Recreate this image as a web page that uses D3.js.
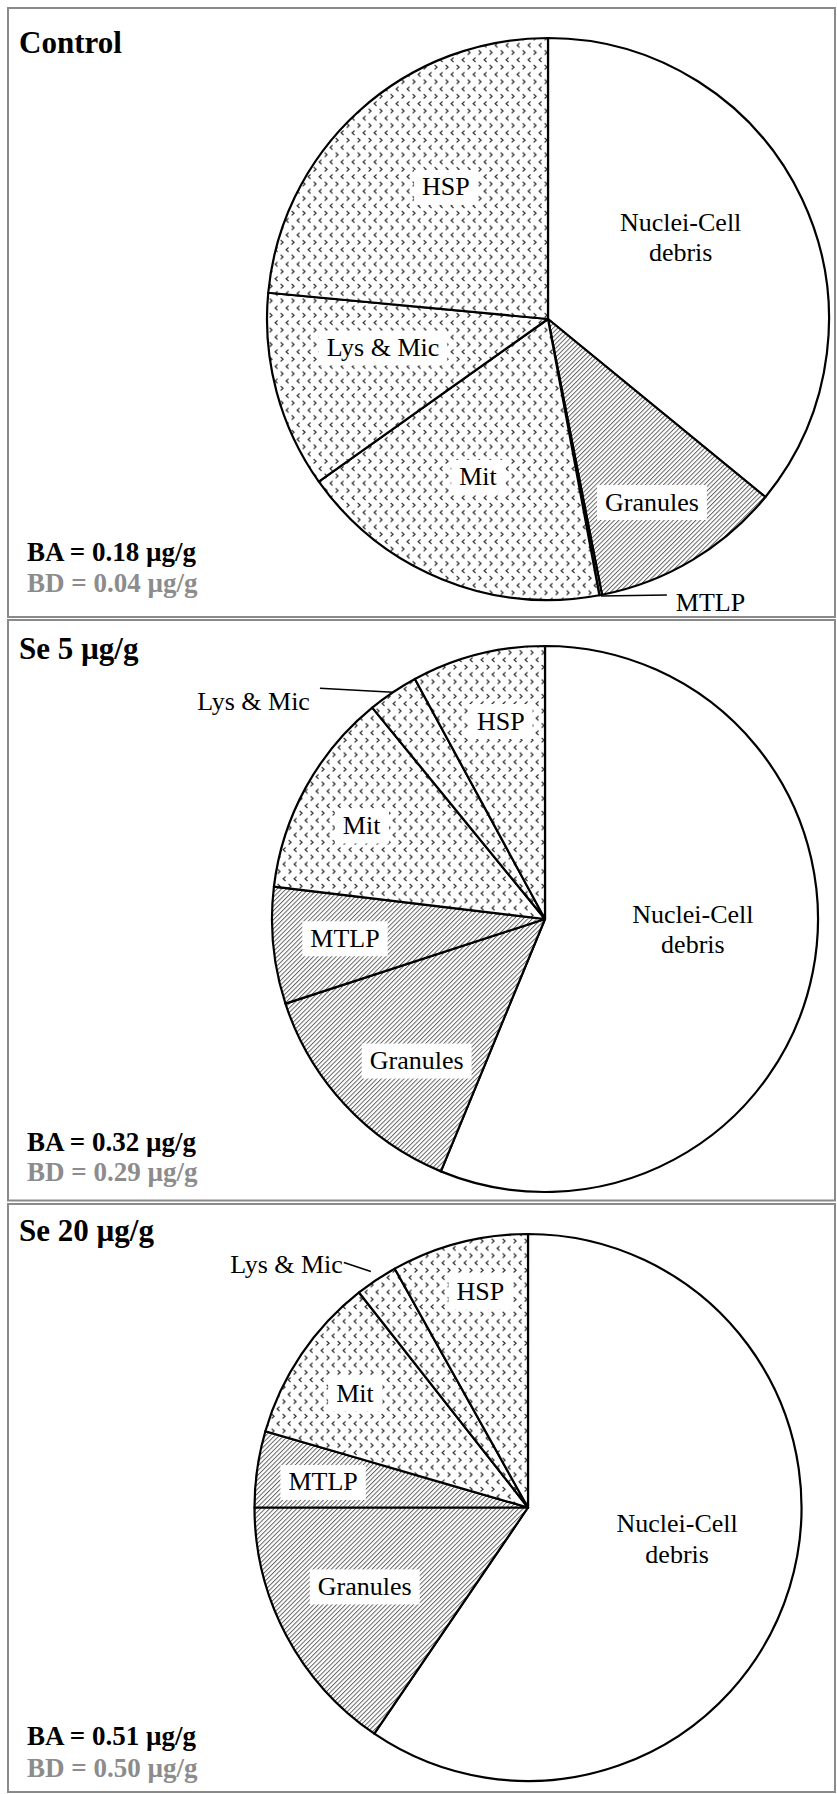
<!DOCTYPE html>
<html>
<head>
<meta charset="utf-8">
<script src="https://cdnjs.cloudflare.com/ajax/libs/d3/7.8.5/d3.min.js"></script>
<style>
  html, body { margin: 0; padding: 0; background: #fff; }
  svg { display: block; }
  text { font-family: "Liberation Serif", "Times New Roman", serif; }
</style>
</head>
<body>
<svg id="chart" width="837" height="1794"></svg>
<script>
// Subcellular distribution of Se (% of total) in three treatment groups
const fractions = ["Nuclei-Cell debris", "Granules", "MTLP", "Mit", "Lys & Mic", "HSP"];
const panelTitles = ["Control", "Se 5 µg/g", "Se 20 µg/g"];
const controlShares = [35.9, 11.0, 0.15, 18.1, 11.3, 23.5];
const se5Shares = [56.2, 13.75, 6.9, 12.2, 3.0, 7.9];
const se20Shares = [59.5, 15.5, 4.5, 9.9, 2.5, 8.1];
const baValues = ["0.18", "0.32", "0.51"];
const bdValues = ["0.04", "0.29", "0.50"];

const shareSets = [controlShares, se5Shares, se20Shares];

// Panel geometry
const layout = [
  { top: 8, bottom: 617, cx: 548, cy: 319, r: 281, titleY: 53, baY: 561, bdY: 592 },
  { top: 620, bottom: 1200.5, cx: 545, cy: 919, r: 273, titleY: 659, baY: 1151, bdY: 1181 },
  { top: 1204, bottom: 1792, cx: 528, cy: 1507.5, r: 273.5, titleY: 1241, baY: 1745, bdY: 1777 }
];

// Label placement: polar [angle in degrees clockwise from 12 o'clock, fraction of radius]
// or an external callout with a leader line.
const labelPlacement = [
  [[58.3, 0.555], [150.4, 0.749], { ext: true, rOff: 1, dx: 66, dy: -1, tx: 9, ty: 16, anchor: "start" },
   [203.9, 0.615], [260.2, 0.596], [322.3, 0.594]],
  [[93.9, 0.543], [222.2, 0.70], [264.5, 0.736], [297, 0.754],
   { ext: true, rOff: 0, dx: -73, dy: -4, tx: -10, ty: 22, anchor: "end" }, [347.4, 0.743]],
  [[101.8, 0.557], [244.2, 0.663], [277.1, 0.755], [303.4, 0.758],
   { ext: true, rOff: 10, dx: -27, dy: -9, tx: -1, ty: 10, anchor: "end" }, [347.6, 0.81]]
];

const svg = d3.select("#chart");
const defs = svg.append("defs");

// Diagonal hatching
const hatch = defs.append("pattern")
  .attr("id", "hatch")
  .attr("patternUnits", "userSpaceOnUse")
  .attr("width", 3.2).attr("height", 3.2)
  .attr("patternTransform", "rotate(45)");
hatch.append("rect").attr("width", 3.2).attr("height", 3.2).attr("fill", "#fff");
hatch.append("line")
  .attr("x1", 0.5).attr("y1", 0).attr("x2", 0.5).attr("y2", 3.2)
  .attr("stroke", "#555").attr("stroke-width", 0.9);

// Small chevron confetti
const conf = defs.append("pattern")
  .attr("id", "confetti")
  .attr("patternUnits", "userSpaceOnUse")
  .attr("width", 11).attr("height", 14.6);
conf.append("rect").attr("width", 11).attr("height", 14.6).attr("fill", "#fff");
conf.append("path")
  .attr("d", "M4.6,1.4 L2.1,3.6 L4.6,5.8")
  .attr("fill", "none").attr("stroke", "#333").attr("stroke-width", 1.2);
conf.append("path")
  .attr("d", "M7.6,8.7 L10.1,10.9 L7.6,13.1")
  .attr("fill", "none").attr("stroke", "#333").attr("stroke-width", 1.2);

const fillFor = (name, panelIdx) => {
  if (name === "Nuclei-Cell debris") return "#fff";
  if (name === "Granules") return "url(#hatch)";
  if (name === "MTLP") return panelIdx === 0 ? "#ffffc4" : "url(#hatch)";
  return "url(#confetti)";
};

const pie = d3.pie().sort(null).value(d => d.value).startAngle(0).endAngle(2 * Math.PI);
const rad = deg => deg * Math.PI / 180;
const polar = (cx, cy, angleRad, dist) => [cx + dist * Math.sin(angleRad), cy - dist * Math.cos(angleRad)];

layout.forEach((L, pi) => {
  const g = svg.append("g");

  // Panel frame
  g.append("rect")
    .attr("x", 8).attr("y", L.top)
    .attr("width", 827).attr("height", L.bottom - L.top)
    .attr("fill", "none").attr("stroke", "#8a8a8a").attr("stroke-width", 2);

  // Title
  g.append("text")
    .attr("x", 19).attr("y", L.titleY)
    .attr("font-size", 31).attr("font-weight", "bold").attr("fill", "#000")
    .text(panelTitles[pi]);

  // BA / BD values
  g.append("text")
    .attr("x", 27).attr("y", L.baY)
    .attr("font-size", 27).attr("font-weight", "bold").attr("fill", "#000")
    .text(`BA = ${baValues[pi]} µg/g`);
  g.append("text")
    .attr("x", 27).attr("y", L.bdY)
    .attr("font-size", 27).attr("font-weight", "bold").attr("fill", "#8c8c8c")
    .text(`BD = ${bdValues[pi]} µg/g`);

  const data = fractions.map((name, i) => ({ name, value: shareSets[pi][i], idx: i }));
  const arcs = pie(data);
  const arc = d3.arc().innerRadius(0).outerRadius(L.r);

  const pieG = g.append("g").attr("transform", `translate(${L.cx},${L.cy})`);
  pieG.selectAll("path.slice")
    .data(arcs)
    .join("path")
    .attr("class", "slice")
    .attr("d", arc)
    .attr("fill", d => fillFor(d.data.name, pi))
    .attr("stroke", "#000")
    .attr("stroke-width", 2.2)
    .attr("stroke-linejoin", "round");

  // Labels
  arcs.forEach((a, i) => {
    const place = labelPlacement[pi][i];
    const name = a.data.name;
    if (place.ext) {
      const mid = (a.startAngle + a.endAngle) / 2;
      const p0 = polar(L.cx, L.cy, mid, L.r + place.rOff);
      const p1 = [p0[0] + place.dx, p0[1] + place.dy];
      g.append("path")
        .attr("d", d3.line()([p0, p1]))
        .attr("stroke", "#000").attr("stroke-width", 1.5).attr("fill", "none");
      g.append("text")
        .attr("x", p1[0] + place.tx).attr("y", p1[1] + place.ty)
        .attr("font-size", 26).attr("text-anchor", place.anchor).attr("fill", "#000")
        .text(name);
      return;
    }
    const [ang, f] = place;
    const [x, y] = polar(L.cx, L.cy, rad(ang), L.r * f);
    if (name === "Nuclei-Cell debris") {
      const t = g.append("text").attr("font-size", 26).attr("text-anchor", "middle").attr("fill", "#000");
      t.append("tspan").attr("x", x).attr("y", y - 6.5).text("Nuclei-Cell");
      t.append("tspan").attr("x", x).attr("y", y + 24).text("debris");
      return;
    }
    const box = g.append("rect").attr("fill", "#fff");
    const t = g.append("text")
      .attr("x", x).attr("y", y + 8.5)
      .attr("font-size", 26).attr("text-anchor", "middle").attr("fill", "#000")
      .text(name);
    const bb = t.node().getBBox();
    box.attr("x", bb.x - 8).attr("y", y - 17).attr("width", bb.width + 16).attr("height", 35);
  });
});
</script>
</body>
</html>
